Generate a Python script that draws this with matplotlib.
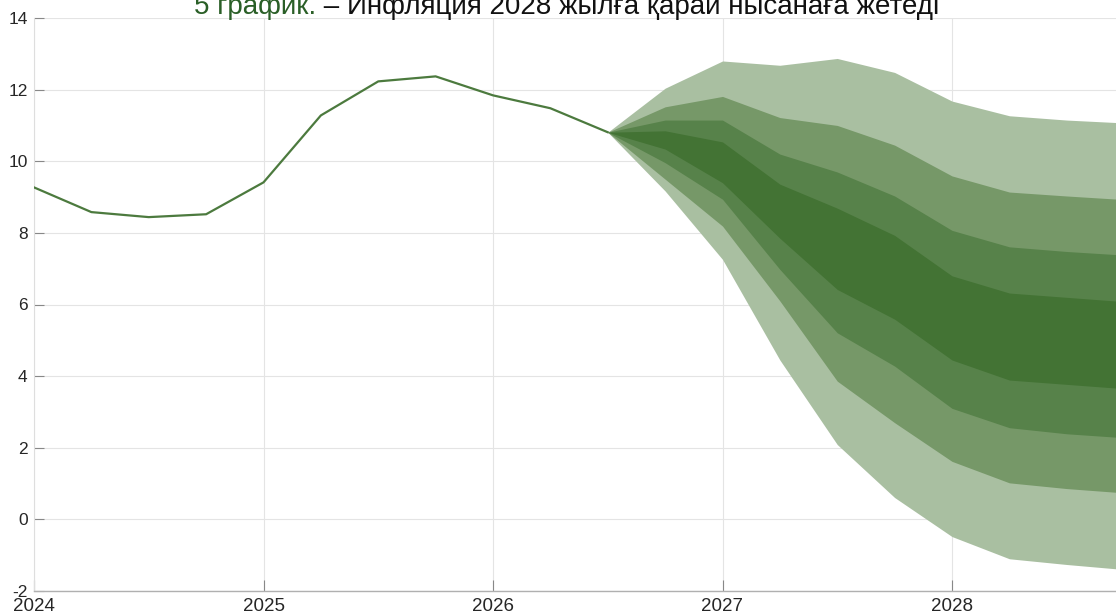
import matplotlib
matplotlib.use("Agg")
import matplotlib.pyplot as plt
import numpy as np

# ---- data ----
hist_x = [2024.0, 2024.25, 2024.5, 2024.75, 2025.0, 2025.25, 2025.5, 2025.75,
          2026.0, 2026.25, 2026.5]
hist_y = [9.27, 8.58, 8.44, 8.52, 9.41, 11.28, 12.23, 12.37, 11.84, 11.48, 10.81]

fan_x = [2026.5, 2026.75, 2027.0, 2027.25, 2027.5, 2027.75, 2028.0, 2028.25, 2028.5, 2028.75]
upper1 = [10.81, 12.04, 12.80, 12.68, 12.87, 12.48, 11.68, 11.27, 11.15, 11.07]
upper2 = [10.81, 11.52, 11.81, 11.22, 11.00, 10.45, 9.59, 9.14, 9.03, 8.93]
upper3 = [10.81, 11.15, 11.15, 10.20, 9.70, 9.03, 8.07, 7.61, 7.48, 7.38]
upper4 = [10.81, 10.85, 10.54, 9.36, 8.69, 7.93, 6.80, 6.32, 6.20, 6.08]
lower4 = [10.81, 10.34, 9.40, 7.85, 6.42, 5.59, 4.45, 3.89, 3.77, 3.65]
lower3 = [10.81, 9.96, 8.94, 6.98, 5.21, 4.28, 3.10, 2.56, 2.39, 2.28]
lower2 = [10.81, 9.50, 8.19, 6.10, 3.86, 2.70, 1.62, 1.02, 0.86, 0.74]
lower1 = [10.81, 9.17, 7.26, 4.45, 2.09, 0.61, -0.48, -1.10, -1.26, -1.40]

x_ticks = [2024, 2025, 2026, 2027, 2028]
x_labels = ["2024", "2025", "2026", "2027", "2028"]
y_ticks = [-2, 0, 2, 4, 6, 8, 10, 12, 14]
y_labels = ["-2", "0", "2", "4", "6", "8", "10", "12", "14"]

title_green = "5 график."
title_rest = " – Инфляция 2028 жылға қарай нысанаға жетеді"

# ---- style ----
c_light = "#a9bfa1"
c_midlight = "#769868"
c_mid = "#57824a"
c_dark = "#437334"
c_line = "#4c7a3e"
FAM = ["Liberation Sans", "DejaVu Sans"]

W, H = 1116, 616
fig = plt.figure(figsize=(W / 100, H / 100), dpi=100)
left_px, right_px = 34, 34 + 4.75 * 229.5
top_px, bottom_px = 18, 591
ax = fig.add_axes([left_px / W, (H - bottom_px) / H,
                   (right_px - left_px) / W, (bottom_px - top_px) / H])

ax.fill_between(fan_x, lower1, upper1, color=c_light, lw=0, zorder=2)
ax.fill_between(fan_x, lower2, upper2, color=c_midlight, lw=0, zorder=3)
ax.fill_between(fan_x, lower3, upper3, color=c_mid, lw=0, zorder=4)
ax.fill_between(fan_x, lower4, upper4, color=c_dark, lw=0, zorder=5)
ax.plot(hist_x, hist_y, color=c_line, lw=1.6, zorder=6)

ax.set_xlim(2024, 2028.75)
ax.set_ylim(-2, 14)
ax.set_xticks(x_ticks)
ax.set_xticklabels(x_labels)
ax.set_yticks(y_ticks)
ax.set_yticklabels(y_labels)
ax.grid(True, color="#e4e4e4", lw=0.8, zorder=0)
ax.set_axisbelow(True)

for s in ["top", "right"]:
    ax.spines[s].set_visible(False)
ax.spines["left"].set_color("#dedede")
ax.spines["bottom"].set_color("#b0b0b0")
ax.spines["bottom"].set_linewidth(1.0)
ax.spines["left"].set_linewidth(0.8)

ax.tick_params(axis="x", direction="in", length=8, width=0.8, color="#888888",
               labelsize=13.5, labelcolor="#262626", pad=5)
ax.tick_params(axis="y", direction="in", length=7, width=0.8, color="#888888",
               labelsize=12.5, labelcolor="#262626", pad=4.5)
for lab in ax.get_xticklabels() + ax.get_yticklabels():
    lab.set_fontfamily(FAM)

# ---- title (partially cut at top, as in reference) ----
fig.canvas.draw()
renderer = fig.canvas.get_renderer()
ty = 1 - 14.5 / H
fs = 20
t_all = fig.text(0, ty, title_green + title_rest, fontsize=fs,
                 family=FAM, va="baseline")
total_w = t_all.get_window_extent(renderer).width
t_all.remove()
x0 = 567 - total_w / 2
t1 = fig.text(x0 / W, ty, title_green, fontsize=fs, color="#2a5f27",
              family=FAM, va="baseline")
w1 = t1.get_window_extent(renderer).width
fig.text((x0 + w1) / W, ty, title_rest, fontsize=fs, color="#111111",
         family=FAM, va="baseline")

fig.savefig("out.png", dpi=100)
